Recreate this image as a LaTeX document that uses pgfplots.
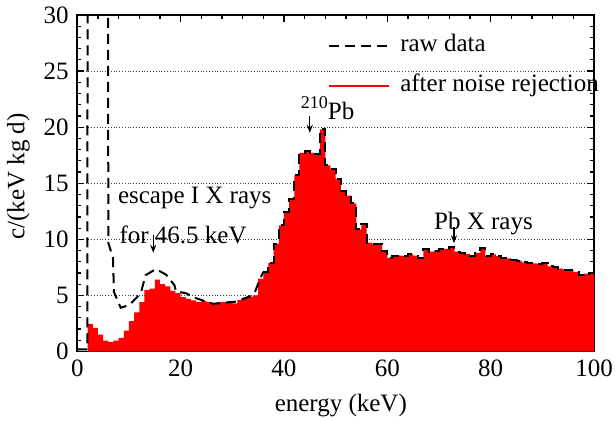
\documentclass[border=0pt]{standalone}
\usepackage{fontspec}
\setmainfont{Liberation Serif}
\usepackage{pgfplots}
\usepackage{pgfplotstable}
\pgfplotsset{compat=1.18}
\usetikzlibrary{arrows.meta}
\tikzset{arr/.style={-{Stealth[length=4pt,width=3pt]}, line width=0.6pt}}

% spectrum after noise rejection, 1 keV bins (left edge, counts)
\pgfplotstableread{
x y
2 2.47
3 2.1
4 1.5
5 0.98
6 0.83
7 0.98
8 1.22
9 1.87
10 2.7
11 3.5
12 4.4
13 5.5
14 5.6
15 6.4
16 6.0
17 5.8
18 5.4
19 5.2
20 4.85
21 4.7
22 4.55
23 4.4
24 4.5
25 4.4
26 4.2
27 4.4
28 4.4
29 4.5
30 4.3
31 4.6
32 4.8
33 4.9
34 5.0
35 6.5
36 7.1
37 7.9
38 9.6
39 11.25
40 12.4
41 13.6
42 15.7
43 17.7
44 17.9
45 17.7
46 17.6
47 19.8
48 16.6
49 16.3
50 15.4
51 14.3
52 13.9
53 13.2
54 10.9
55 11.4
56 9.7
57 9.6
58 9.6
59 9.0
60 8.35
61 8.5
62 8.55
63 8.5
64 8.65
65 8.55
66 8.35
67 9.1
68 8.9
69 9.0
70 9.1
71 9.15
72 9.35
73 8.9
74 8.8
75 8.7
76 8.5
77 8.8
78 9.2
79 8.5
80 8.65
81 8.5
82 8.35
83 8.3
84 8.2
85 8.1
86 7.95
87 7.9
88 7.85
89 7.8
90 7.85
91 7.6
92 7.55
93 7.4
94 7.3
95 7.25
96 7.1
97 6.8
98 6.95
99 7.0
100 7.0
}\clean

% raw data below 36 keV (above that it follows the clean spectrum)
\pgfplotstableread{
x y
0 0.2
1.95 0.2
2.0 45
5.95 45
6.0 9.7
6.9 8.35
7.1 5.3
8.4 3.9
10.1 4.15
12.3 5.2
13.2 6.8
15.2 7.35
17.2 6.85
18.8 5.9
19.1 5.35
21.0 5.2
23.0 4.75
26.3 4.25
30.8 4.45
33.3 4.9
34.3 5.2
35.3 6.4
36.0 7.1
}\rawlow

\begin{document}
\fontsize{12.5}{15}\selectfont
\begin{tikzpicture}
\useasboundingbox (-38.65pt,-34.25pt) rectangle (268.85pt,175.75pt);
\begin{axis}[
    at={(0,0)}, anchor=south west,
    scale only axis, width=258.35pt, height=168.25pt,
    xmin=0, xmax=100, ymin=0, ymax=30,
    xtick={0,20,...,100}, ytick={0,5,...,30},
    minor x tick num=4, minor y tick num=4,
    tick align=inside, xtick pos=both, ytick pos=both,
    major tick length=3.5pt, minor tick length=2pt,
    every tick/.style={black, line width=0.6pt},
    axis line style={line width=0.8pt},
    ymajorgrids,
    major grid style={densely dotted, black!75, line width=0.4pt},
    /pgf/number format/assume math mode=true,
    xlabel={energy (keV)}, ylabel={c/(keV kg d)},
    xlabel style={at={(axis description cs:0.51,-0.16)}, anchor=center},
    ylabel style={at={(axis description cs:-0.114,0.52)}, anchor=center},
    legend image code/.code={\draw[#1] (0pt,0pt) -- (30pt,0pt);},
    legend style={draw=none, fill=none, at={(rel axis cs:0.485,0.945)},
        anchor=north west, inner sep=0pt, row sep=8pt, column sep=5pt,
        nodes={inner sep=0pt, text height=9pt, text depth=3pt}},
    legend cell align=left,
]
\addlegendimage{black, line width=1pt, dash pattern=on 5pt off 3pt}
\addlegendentry{raw data}
\addlegendimage{red, line width=0.6pt}
\addlegendentry{after noise rejection}

\addplot[const plot mark left, fill=red, draw=none, forget plot] table {\clean} \closedcycle;
\addplot[sharp plot, black, line width=1pt, dash pattern=on 5pt off 3pt, forget plot] table {\rawlow};
\addplot[const plot mark left, black, line width=1pt, dash pattern=on 5pt off 3pt, forget plot,
    restrict x to domain=36:100] table {\clean};

\node[anchor=base west, inner sep=0pt] at (axis cs:7.8,13.17) {escape I X rays};
\node[anchor=base west, inner sep=0pt] at (axis cs:8.1,9.66) {for 46.5 keV};
\draw[arr] (axis cs:14.7,10.4) -- (axis cs:14.7,8.8);
\node[anchor=base west, inner sep=0pt] at (axis cs:43.2,20.7) {\raisebox{5.5pt}{\fontsize{9}{10}\selectfont 210}Pb};
\draw[arr] (axis cs:45.0,21.0) -- (axis cs:45.0,19.5);
\node[anchor=base west, inner sep=0pt] at (axis cs:69.0,10.9) {Pb X rays};
\draw[arr] (axis cs:72.9,11.1) -- (axis cs:72.9,9.65);
\end{axis}
\end{tikzpicture}
\end{document}
